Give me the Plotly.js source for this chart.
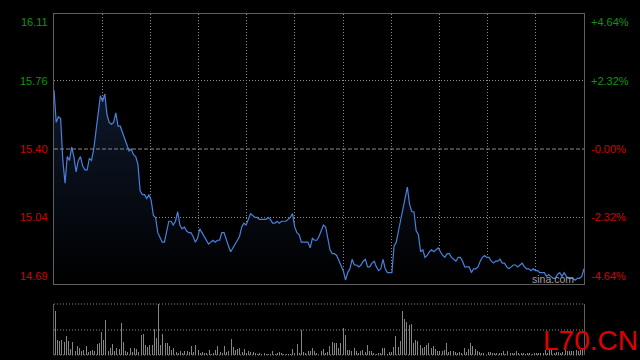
<!DOCTYPE html>
<html><head><meta charset="utf-8">
<script src="https://cdn.plot.ly/plotly-3.0.1.min.js"></script>
<style>html,body{margin:0;padding:0;background:#000;}#chart{width:640px;height:360px;}</style>
</head><body><div id="chart"></div>
<script>
const prices = [
15.71,15.54,15.57,15.56,15.34,15.22,15.36,15.34,15.41,15.36,
15.28,15.34,15.36,15.31,15.29,15.29,15.35,15.34,15.40,15.49,
15.58,15.68,15.65,15.69,15.58,15.54,15.53,15.54,15.59,15.52,
15.52,15.49,15.46,15.43,15.39,15.40,15.37,15.36,15.32,15.18,
15.16,15.16,15.14,15.16,15.13,15.05,15.04,14.96,14.93,14.91,
14.91,14.96,15.02,15.02,15.00,15.02,15.07,15.00,14.98,14.99,
14.97,14.96,14.96,14.94,14.91,14.93,14.98,14.96,14.94,14.92,
14.90,14.91,14.92,14.91,14.92,14.92,14.96,14.96,14.92,14.89,
14.86,14.88,14.90,14.92,14.94,14.99,15.01,15.00,15.03,15.06,
15.05,15.04,15.04,15.03,15.03,15.03,15.03,15.04,15.03,15.01,
15.01,15.02,15.01,15.02,15.02,15.02,15.03,15.04,15.06,14.99,
14.96,14.95,14.91,14.91,14.91,14.91,14.88,14.93,14.92,14.92,
14.94,14.97,15.00,14.99,14.93,14.87,14.85,14.85,14.84,14.81,
14.79,14.76,14.71,14.75,14.77,14.82,14.79,14.79,14.78,14.79,
14.81,14.82,14.78,14.78,14.80,14.81,14.78,14.76,14.77,14.82,
14.77,14.75,14.75,14.75,14.89,14.91,14.97,15.03,15.07,15.14,
15.20,15.11,15.07,15.07,14.97,14.95,14.86,14.87,14.83,14.84,
14.86,14.87,14.86,14.87,14.88,14.86,14.84,14.83,14.85,14.85,
14.83,14.82,14.81,14.83,14.83,14.81,14.78,14.78,14.78,14.75,
14.77,14.77,14.78,14.81,14.83,14.84,14.83,14.83,14.81,14.80,
14.81,14.81,14.82,14.80,14.80,14.78,14.77,14.78,14.79,14.79,
14.78,14.79,14.80,14.78,14.77,14.77,14.76,14.77,14.76,14.76,
14.75,14.75,14.75,14.73,14.74,14.73,14.72,14.72,14.74,14.75,
14.73,14.75,14.73,14.72,14.72,14.72,14.71,14.72,14.72,14.73,
14.77];

const volumes = [
87,30,27,30,25,38,28,11,25,8,
17,13,7,10,17,5,7,10,8,22,
23,45,30,68,7,13,22,7,13,11,
62,25,8,6,13,5,13,11,6,40,
42,20,15,19,20,51,33,100,20,42,
23,23,18,10,13,6,3,8,3,8,
8,5,17,5,20,10,3,6,3,3,
10,2,3,10,18,5,3,18,6,7,
31,15,10,12,13,5,11,3,7,5,
6,3,2,3,2,3,2,2,2,8,
2,3,6,3,2,2,2,2,11,3,
22,3,50,5,3,8,8,13,7,3,
7,7,11,3,5,17,25,23,23,13,
23,53,40,10,9,8,13,7,3,7,
10,5,20,7,7,3,2,3,3,13,
13,2,6,6,15,38,15,28,86,70,
65,58,60,23,30,28,20,13,15,20,
23,13,17,11,7,7,8,10,23,5,
8,7,6,3,5,3,13,5,11,23,
17,11,8,5,3,3,3,5,5,3,
3,3,3,3,7,2,7,3,3,3,
8,3,3,3,2,3,3,2,3,3,
3,3,3,10,3,13,10,3,5,6,
3,6,10,7,7,8,7,10,7,10,
13];

const priceTicks = [16.11, 15.76, 15.40, 15.04, 14.69];
const priceLabels = ['16.11', '15.76', '15.40', '15.04', '14.69'];
const pctLabels = ['+4.64%', '+2.32%', '-0.00%', '-2.32%', '-4.64%'];
const prevClose = 15.40;
const priceMin = 14.69, priceMax = 16.11;
const volMax = 100;
const minutes = prices.map((_, i) => i);

const GREEN = '#0a990a', RED = '#d40000';
const X0 = 54/640, X1 = 584/640;
const YT = 1 - 14/360, YB = 1 - 284/360;
const VT = 1 - 304/360, VB = 1 - 355/360, VM = 1 - 330/360;

const traces = [
  {
    x: minutes, y: prices, type: 'scatter', mode: 'lines',
    line: {color: '#4a80dc', width: 1.2},
    fill: 'tozeroy',
    fillgradient: {type: 'vertical', start: priceMin, stop: 15.76,
      colorscale: [[0, 'rgba(0,0,0,1)'], [1, 'rgba(15,26,46,1)']]},
    xaxis: 'x', yaxis: 'y', hoverinfo: 'skip'
  },
  {
    x: minutes, y: volumes, type: 'bar',
    marker: {color: '#858585', line: {width: 0}},
    width: 0.45, xaxis: 'x2', yaxis: 'y2', hoverinfo: 'skip'
  }
];

const annotations = [];
priceTicks.forEach((v, k) => {
  const col = v > prevClose ? GREEN : RED;
  const anchor = k === 0 ? 'top' : (k === priceTicks.length - 1 ? 'bottom' : 'middle');
  annotations.push({xref: 'paper', yref: 'y', x: 50/640, y: v, xanchor: 'right', yanchor: anchor,
    text: priceLabels[k], showarrow: false, font: {family: 'Liberation Sans, Arial', size: 11, color: col}});
  annotations.push({xref: 'paper', yref: 'y', x: 589/640, y: v, xanchor: 'left', yanchor: anchor,
    text: pctLabels[k], showarrow: false, font: {family: 'Liberation Sans, Arial', size: 11, color: col}});
});
annotations.push({xref: 'paper', yref: 'paper', x: 552.7/640, y: 1 - 279/360, xanchor: 'center', yanchor: 'middle',
  text: 'sina.com', showarrow: false, font: {family: 'Liberation Sans, Arial', size: 10.5, color: '#a0a0a0'}});
annotations.push({xref: 'paper', yref: 'paper', x: 590/640, y: 1 - 340/360, xanchor: 'center', yanchor: 'middle',
  text: 'L70.CN', showarrow: false, font: {family: 'Liberation Sans, Arial', size: 28, color: '#e00000'}});

const DOT = '1px,2px';
const dotted = {color: '#8a8a8a', width: 1, dash: DOT};
const shapes = [
  {type: 'line', xref: 'paper', yref: 'y', x0: X0, x1: X1, y0: prevClose, y1: prevClose,
   line: {color: '#8a8a8a', width: 1, dash: '4px,2px'}},
  {type: 'line', xref: 'paper', yref: 'paper', x0: X0, x1: X1, y0: VT, y1: VT, line: dotted},
  {type: 'line', xref: 'paper', yref: 'paper', x0: X0, x1: X1, y0: VM, y1: VM, line: dotted},
  {type: 'line', xref: 'paper', yref: 'paper', x0: X0, x1: X1, y0: VB, y1: VB, line: dotted}
];

const layout = {
  width: 640, height: 360,
  margin: {l: 0, r: 0, t: 0, b: 0},
  paper_bgcolor: '#000', plot_bgcolor: '#000',
  showlegend: false,
  xaxis: {domain: [X0, X1], range: [0, 240], tick0: 0, dtick: 240/11, showticklabels: false,
    ticks: '', showgrid: true, gridcolor: '#8a8a8a', griddash: DOT, gridwidth: 1,
    showline: true, mirror: true, linecolor: '#5e5e5e', linewidth: 1, zeroline: false, anchor: 'y'},
  yaxis: {domain: [YB, YT], range: [priceMin, priceMax], tickvals: [15.04, 15.76], showticklabels: false,
    ticks: '', showgrid: true, gridcolor: '#8a8a8a', griddash: DOT, gridwidth: 1,
    showline: true, mirror: true, linecolor: '#5e5e5e', linewidth: 1, zeroline: false, anchor: 'x'},
  xaxis2: {domain: [X0, X1], range: [-0.6, 240.6], showticklabels: false, ticks: '', showgrid: false,
    zeroline: false, showline: false, anchor: 'y2'},
  yaxis2: {domain: [VB, VT], range: [0, volMax], showticklabels: false, ticks: '', showgrid: false,
    zeroline: false, showline: true, mirror: true, linecolor: '#5e5e5e', linewidth: 1, anchor: 'x2'},
  bargap: 0,
  annotations: annotations,
  shapes: shapes
};

Plotly.newPlot('chart', traces, layout, {staticPlot: true, displayModeBar: false});
</script>
</body></html>
